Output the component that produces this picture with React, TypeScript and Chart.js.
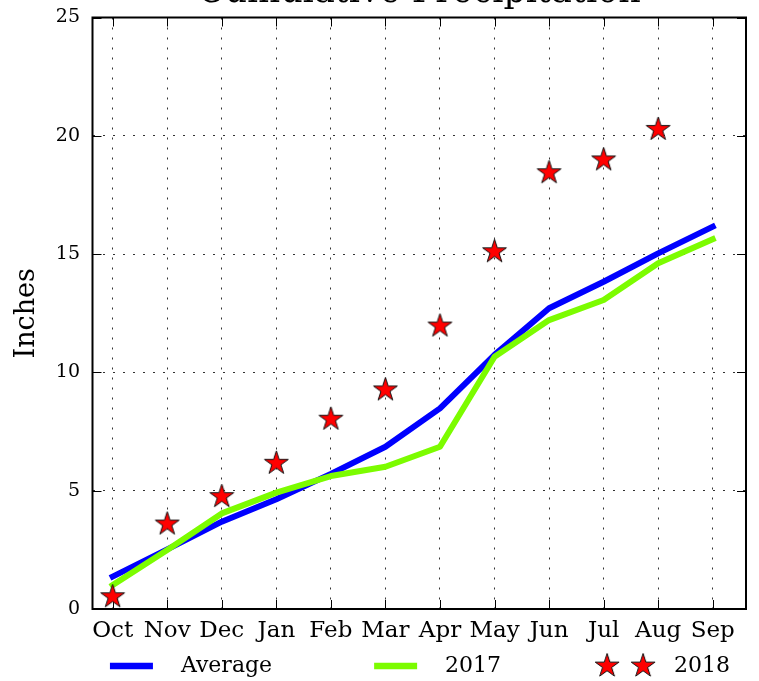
import React, { useEffect, useRef } from "react";
import { Chart, registerables } from "chart.js";

Chart.register(...registerables);

// ---- data ----
const months = ["Oct", "Nov", "Dec", "Jan", "Feb", "Mar", "Apr", "May", "Jun", "Jul", "Aug", "Sep"];
const averageValues = [1.37, 2.52, 3.69, 4.64, 5.71, 6.86, 8.48, 10.74, 12.71, 13.83, 15.03, 16.16];
const values2017 = [1.01, 2.49, 4.04, 4.92, 5.62, 6.01, 6.86, 10.66, 12.21, 13.06, 14.61, 15.63];
const values2018: (number | null)[] = [0.52, 3.59, 4.75, 6.16, 8.02, 9.26, 11.96, 15.1, 18.44, 18.98, 20.27, null];
const yTickValues = [0, 5, 10, 15, 20, 25];
const seriesNames = ["Average", "2017", "2018"];
const chartTitle = "Cumulative Precipitation";
const yAxisTitle = "Inches";

// ---- styles ----
const FONT = "'DejaVu Serif', serif";
const BLUE = "#0000ff";
const GREEN = "#7cfc00";
const RED = "#ff0000";
const LEGEND_BOX = 154;

function drawStar(ctx: CanvasRenderingContext2D, cx: number, cy: number, r: number) {
  const ri = r * 0.382;
  ctx.beginPath();
  for (let k = 0; k < 10; k++) {
    const ang = -Math.PI / 2 + (k * Math.PI) / 5;
    const rr = k % 2 === 0 ? r : ri;
    const px = cx + rr * Math.cos(ang);
    const py = cy + rr * Math.sin(ang);
    if (k === 0) ctx.moveTo(px, py);
    else ctx.lineTo(px, py);
  }
  ctx.closePath();
  ctx.fillStyle = RED;
  ctx.fill();
  ctx.lineWidth = 1;
  ctx.strokeStyle = "#111";
  ctx.lineJoin = "miter";
  ctx.stroke();
}

function makeStarImage(r: number) {
  const c = document.createElement("canvas");
  const s = Math.ceil(2 * r + 4);
  c.width = s;
  c.height = s;
  const ctx = c.getContext("2d")!;
  drawStar(ctx, s / 2, s / 2, r);
  return c;
}

function makeLegendLine(color: string) {
  const c = document.createElement("canvas");
  c.width = LEGEND_BOX;
  c.height = 10;
  const ctx = c.getContext("2d")!;
  ctx.fillStyle = color;
  ctx.fillRect(94, 1.75, 43, 6.5);
  return c;
}

function makeLegendStars(r: number) {
  const c = document.createElement("canvas");
  c.width = LEGEND_BOX;
  c.height = 30;
  const ctx = c.getContext("2d")!;
  drawStar(ctx, 98, 15, r);
  drawStar(ctx, 134, 15, r);
  return c;
}

const framePlugin = {
  id: "frameTicks",
  beforeDatasetsDraw(chart: any) {
    const { ctx, chartArea: a, scales } = chart;
    const x = scales.x;
    const y = scales.y;
    const T = 9;
    ctx.save();
    ctx.setLineDash([]);
    ctx.strokeStyle = "#000";
    ctx.lineWidth = 1;
    ctx.beginPath();
    x.ticks.forEach((t: any) => {
      const px = Math.round(x.getPixelForValue(t.value)) + 0.5;
      ctx.moveTo(px, a.bottom);
      ctx.lineTo(px, a.bottom - T);
      ctx.moveTo(px, a.top);
      ctx.lineTo(px, a.top + T);
    });
    y.ticks.forEach((t: any) => {
      const py = Math.round(y.getPixelForValue(t.value)) + 0.5;
      ctx.moveTo(a.left, py);
      ctx.lineTo(a.left + T, py);
      ctx.moveTo(a.right, py);
      ctx.lineTo(a.right - T, py);
    });
    ctx.stroke();
    ctx.lineWidth = 2;
    ctx.strokeRect(a.left, a.top, a.right - a.left, a.bottom - a.top);
    ctx.restore();
  },
};

export default function App() {
  const ref = useRef<HTMLCanvasElement>(null);

  useEffect(() => {
    const canvas = ref.current;
    if (!canvas) return;
    const starImg = makeStarImage(12.5);
    const legendImgs = [makeLegendLine(BLUE), makeLegendLine(GREEN), makeLegendStars(12.5)];
    const legendColors = [BLUE, GREEN, RED];

    const gridOpts = { color: "rgba(0,0,0,0.8)", lineWidth: 1, drawTicks: false };
    const borderOpts = { display: false, dash: [2, 8] };

    const chart = new Chart(canvas, {
      type: "line",
      data: {
        datasets: [
          {
            label: seriesNames[2],
            data: values2018.map((v, i) => ({ x: i, y: v })),
            showLine: false,
            pointStyle: starImg as any,
            pointRadius: 12,
            borderColor: RED,
            backgroundColor: RED,
            order: 0,
          },
          {
            label: seriesNames[1],
            data: values2017.map((v, i) => ({ x: i, y: v })),
            borderColor: GREEN,
            backgroundColor: GREEN,
            borderWidth: 6,
            pointRadius: 0,
            tension: 0,
            borderCapStyle: "square",
            borderJoinStyle: "round",
            order: 1,
          },
          {
            label: seriesNames[0],
            data: averageValues.map((v, i) => ({ x: i, y: v })),
            borderColor: BLUE,
            backgroundColor: BLUE,
            borderWidth: 6,
            pointRadius: 0,
            tension: 0,
            borderCapStyle: "square",
            borderJoinStyle: "round",
            order: 2,
          },
        ] as any,
      },
      options: {
        responsive: false,
        animation: false,
        events: [],
        layout: { padding: { left: 0, right: 13, top: 0, bottom: 0 } },
        scales: {
          x: {
            type: "linear",
            min: -0.37,
            max: 11.61,
            afterBuildTicks: (s: any) => {
              s.ticks = months.map((_, i) => ({ value: i }));
            },
            afterFit: (s: any) => {
              s.height = 38;
            },
            ticks: {
              autoSkip: false,
              maxRotation: 0,
              minRotation: 0,
              padding: 8,
              color: "#000",
              font: { family: FONT, size: 23 },
              callback: (v: any) => months[Number(v)] ?? "",
            },
            grid: gridOpts,
            border: borderOpts,
          },
          y: {
            type: "linear",
            min: 0,
            max: 25,
            afterBuildTicks: (s: any) => {
              s.ticks = yTickValues.map((v) => ({ value: v }));
            },
            afterFit: (s: any) => {
              s.width = 92.5;
            },
            ticks: {
              padding: 12.5,
              color: "#000",
              font: { family: FONT, size: 19 },
            },
            title: {
              display: true,
              text: yAxisTitle,
              color: "#000",
              font: { family: FONT, size: 27 },
              padding: { top: 10.8, bottom: 0 },
            },
            grid: gridOpts,
            border: borderOpts,
          },
        },
        plugins: {
          title: {
            display: true,
            text: chartTitle,
            color: "#000",
            fullSize: false,
            font: { family: FONT, size: 35, weight: "normal" },
            padding: { top: 0, bottom: 3.5 },
          },
          legend: {
            display: true,
            position: "bottom",
            align: "center",
            fullSize: true,
            labels: {
              usePointStyle: true,
              pointStyleWidth: LEGEND_BOX,
              boxHeight: 22,
              padding: 8,
              color: "#000",
              font: { family: FONT, size: 22 },
              generateLabels: () =>
                seriesNames.map((name, i) => ({
                  text: name,
                  pointStyle: legendImgs[i] as any,
                  fillStyle: legendColors[i],
                  strokeStyle: legendColors[i],
                  lineWidth: 0,
                  hidden: false,
                  datasetIndex: i,
                })),
            },
          },
          tooltip: { enabled: false },
        },
      } as any,
      plugins: [framePlugin],
    });

    return () => chart.destroy();
  }, []);

  return (
    <div
      style={{
        position: "absolute",
        left: 0,
        top: 0,
        width: 759,
        height: 681,
        overflow: "hidden",
        background: "#fff",
      }}
    >
      <canvas
        ref={ref}
        width={759}
        height={715}
        style={{ position: "absolute", left: 0, top: -28, width: 759, height: 715, display: "block" }}
      />
    </div>
  );
}
